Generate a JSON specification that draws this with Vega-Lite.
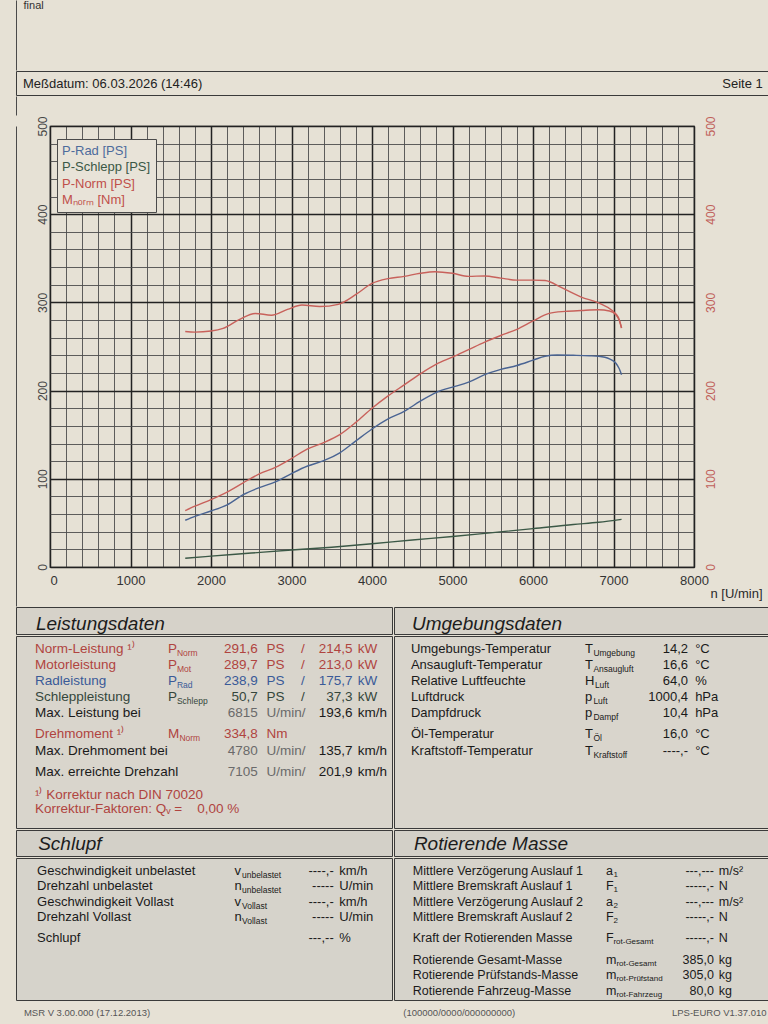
{
  "$schema": "https://vega.github.io/schema/vega-lite/v6.json",
  "background": "#e6e1d5",
  "padding": {"left": 15, "top": 0, "right": 0, "bottom": 0},
  "spacing": 0,
  "columns": 1,
  "align": "none",
  "config": {
    "font": "Liberation Sans",
    "view": {"stroke": null},
    "concat": {"spacing": 0},
    "text": {"font": "Liberation Sans"}
  },
  "datasets": {
    "head": [
      {"slot": "left", "text": "Meßdatum: 06.03.2026 (14:46)"},
      {"slot": "right", "text": "Seite 1"}
    ],
    "foot": [
      {"slot": "left", "text": "MSR V 3.00.000 (17.12.2013)"},
      {"slot": "mid", "text": "(100000/0000/000000000)"},
      {"slot": "right", "text": "LPS-EURO V1.37.010"}
    ],
    "power": [
      {"n": 1680, "ps": 53, "series": "P-Rad [PS]"},
      {"n": 1800, "ps": 57.5, "series": "P-Rad [PS]"},
      {"n": 2000, "ps": 63.5, "series": "P-Rad [PS]"},
      {"n": 2200, "ps": 70.5, "series": "P-Rad [PS]"},
      {"n": 2400, "ps": 82, "series": "P-Rad [PS]"},
      {"n": 2600, "ps": 90, "series": "P-Rad [PS]"},
      {"n": 2800, "ps": 96.5, "series": "P-Rad [PS]"},
      {"n": 3000, "ps": 106, "series": "P-Rad [PS]"},
      {"n": 3200, "ps": 114.5, "series": "P-Rad [PS]"},
      {"n": 3400, "ps": 120.5, "series": "P-Rad [PS]"},
      {"n": 3600, "ps": 129.5, "series": "P-Rad [PS]"},
      {"n": 3800, "ps": 143, "series": "P-Rad [PS]"},
      {"n": 4000, "ps": 156.5, "series": "P-Rad [PS]"},
      {"n": 4200, "ps": 168, "series": "P-Rad [PS]"},
      {"n": 4400, "ps": 176.5, "series": "P-Rad [PS]"},
      {"n": 4600, "ps": 188, "series": "P-Rad [PS]"},
      {"n": 4800, "ps": 198, "series": "P-Rad [PS]"},
      {"n": 5000, "ps": 204, "series": "P-Rad [PS]"},
      {"n": 5200, "ps": 209.5, "series": "P-Rad [PS]"},
      {"n": 5400, "ps": 218, "series": "P-Rad [PS]"},
      {"n": 5600, "ps": 224, "series": "P-Rad [PS]"},
      {"n": 5800, "ps": 228.5, "series": "P-Rad [PS]"},
      {"n": 6000, "ps": 234.5, "series": "P-Rad [PS]"},
      {"n": 6150, "ps": 239, "series": "P-Rad [PS]"},
      {"n": 6300, "ps": 240.3, "series": "P-Rad [PS]"},
      {"n": 6500, "ps": 240, "series": "P-Rad [PS]"},
      {"n": 6700, "ps": 239.5, "series": "P-Rad [PS]"},
      {"n": 6815, "ps": 238.9, "series": "P-Rad [PS]"},
      {"n": 6950, "ps": 236, "series": "P-Rad [PS]"},
      {"n": 7030, "ps": 231, "series": "P-Rad [PS]"},
      {"n": 7070, "ps": 225, "series": "P-Rad [PS]"},
      {"n": 7100, "ps": 218, "series": "P-Rad [PS]"},
      {"n": 1680, "ps": 10, "series": "P-Schlepp [PS]"},
      {"n": 2000, "ps": 12.3, "series": "P-Schlepp [PS]"},
      {"n": 2500, "ps": 15.8, "series": "P-Schlepp [PS]"},
      {"n": 3000, "ps": 19.3, "series": "P-Schlepp [PS]"},
      {"n": 3500, "ps": 22.4, "series": "P-Schlepp [PS]"},
      {"n": 4000, "ps": 26.3, "series": "P-Schlepp [PS]"},
      {"n": 4500, "ps": 30.6, "series": "P-Schlepp [PS]"},
      {"n": 5000, "ps": 34.5, "series": "P-Schlepp [PS]"},
      {"n": 5500, "ps": 39, "series": "P-Schlepp [PS]"},
      {"n": 6000, "ps": 43.5, "series": "P-Schlepp [PS]"},
      {"n": 6500, "ps": 48.2, "series": "P-Schlepp [PS]"},
      {"n": 6815, "ps": 50.7, "series": "P-Schlepp [PS]"},
      {"n": 7100, "ps": 54, "series": "P-Schlepp [PS]"},
      {"n": 1680, "ps": 64, "series": "P-Norm [PS]"},
      {"n": 1800, "ps": 69, "series": "P-Norm [PS]"},
      {"n": 2000, "ps": 76.5, "series": "P-Norm [PS]"},
      {"n": 2200, "ps": 85, "series": "P-Norm [PS]"},
      {"n": 2400, "ps": 95.5, "series": "P-Norm [PS]"},
      {"n": 2600, "ps": 105.5, "series": "P-Norm [PS]"},
      {"n": 2800, "ps": 113, "series": "P-Norm [PS]"},
      {"n": 3000, "ps": 123, "series": "P-Norm [PS]"},
      {"n": 3200, "ps": 134, "series": "P-Norm [PS]"},
      {"n": 3400, "ps": 141, "series": "P-Norm [PS]"},
      {"n": 3600, "ps": 150, "series": "P-Norm [PS]"},
      {"n": 3800, "ps": 164, "series": "P-Norm [PS]"},
      {"n": 4000, "ps": 180, "series": "P-Norm [PS]"},
      {"n": 4200, "ps": 194, "series": "P-Norm [PS]"},
      {"n": 4400, "ps": 206.5, "series": "P-Norm [PS]"},
      {"n": 4600, "ps": 219, "series": "P-Norm [PS]"},
      {"n": 4800, "ps": 230, "series": "P-Norm [PS]"},
      {"n": 5000, "ps": 238, "series": "P-Norm [PS]"},
      {"n": 5200, "ps": 246.5, "series": "P-Norm [PS]"},
      {"n": 5400, "ps": 255, "series": "P-Norm [PS]"},
      {"n": 5600, "ps": 262.5, "series": "P-Norm [PS]"},
      {"n": 5800, "ps": 269.5, "series": "P-Norm [PS]"},
      {"n": 6000, "ps": 279, "series": "P-Norm [PS]"},
      {"n": 6200, "ps": 287.5, "series": "P-Norm [PS]"},
      {"n": 6400, "ps": 289.8, "series": "P-Norm [PS]"},
      {"n": 6600, "ps": 290.8, "series": "P-Norm [PS]"},
      {"n": 6815, "ps": 291.6, "series": "P-Norm [PS]"},
      {"n": 6950, "ps": 290.3, "series": "P-Norm [PS]"},
      {"n": 7030, "ps": 286, "series": "P-Norm [PS]"},
      {"n": 7075, "ps": 279, "series": "P-Norm [PS]"},
      {"n": 7100, "ps": 271, "series": "P-Norm [PS]"}
    ],
    "torque": [
      {"n": 1680, "nm": 267, "series": "M\u2099\u2092\u1d63\u2098 [Nm]"},
      {"n": 1800, "nm": 266.3, "series": "M\u2099\u2092\u1d63\u2098 [Nm]"},
      {"n": 2000, "nm": 267.5, "series": "M\u2099\u2092\u1d63\u2098 [Nm]"},
      {"n": 2150, "nm": 270.5, "series": "M\u2099\u2092\u1d63\u2098 [Nm]"},
      {"n": 2350, "nm": 280.5, "series": "M\u2099\u2092\u1d63\u2098 [Nm]"},
      {"n": 2550, "nm": 287.5, "series": "M\u2099\u2092\u1d63\u2098 [Nm]"},
      {"n": 2750, "nm": 285.5, "series": "M\u2099\u2092\u1d63\u2098 [Nm]"},
      {"n": 2950, "nm": 292, "series": "M\u2099\u2092\u1d63\u2098 [Nm]"},
      {"n": 3130, "nm": 297, "series": "M\u2099\u2092\u1d63\u2098 [Nm]"},
      {"n": 3350, "nm": 295.3, "series": "M\u2099\u2092\u1d63\u2098 [Nm]"},
      {"n": 3580, "nm": 297.8, "series": "M\u2099\u2092\u1d63\u2098 [Nm]"},
      {"n": 3800, "nm": 309, "series": "M\u2099\u2092\u1d63\u2098 [Nm]"},
      {"n": 4000, "nm": 321.5, "series": "M\u2099\u2092\u1d63\u2098 [Nm]"},
      {"n": 4200, "nm": 327, "series": "M\u2099\u2092\u1d63\u2098 [Nm]"},
      {"n": 4400, "nm": 329.5, "series": "M\u2099\u2092\u1d63\u2098 [Nm]"},
      {"n": 4600, "nm": 333, "series": "M\u2099\u2092\u1d63\u2098 [Nm]"},
      {"n": 4780, "nm": 334.8, "series": "M\u2099\u2092\u1d63\u2098 [Nm]"},
      {"n": 5000, "nm": 333, "series": "M\u2099\u2092\u1d63\u2098 [Nm]"},
      {"n": 5200, "nm": 329.5, "series": "M\u2099\u2092\u1d63\u2098 [Nm]"},
      {"n": 5400, "nm": 330, "series": "M\u2099\u2092\u1d63\u2098 [Nm]"},
      {"n": 5600, "nm": 327.5, "series": "M\u2099\u2092\u1d63\u2098 [Nm]"},
      {"n": 5800, "nm": 325.3, "series": "M\u2099\u2092\u1d63\u2098 [Nm]"},
      {"n": 6000, "nm": 325.3, "series": "M\u2099\u2092\u1d63\u2098 [Nm]"},
      {"n": 6150, "nm": 324.8, "series": "M\u2099\u2092\u1d63\u2098 [Nm]"},
      {"n": 6350, "nm": 317, "series": "M\u2099\u2092\u1d63\u2098 [Nm]"},
      {"n": 6600, "nm": 306, "series": "M\u2099\u2092\u1d63\u2098 [Nm]"},
      {"n": 6815, "nm": 299.5, "series": "M\u2099\u2092\u1d63\u2098 [Nm]"},
      {"n": 6980, "nm": 291, "series": "M\u2099\u2092\u1d63\u2098 [Nm]"},
      {"n": 7060, "nm": 283, "series": "M\u2099\u2092\u1d63\u2098 [Nm]"},
      {"n": 7100, "nm": 271, "series": "M\u2099\u2092\u1d63\u2098 [Nm]"}
    ],
    "leist": [
      {"line": 1, "label": "Norm-Leistung \u00b9\u207e", "kind": "norm", "sym": "P", "sub": "Norm", "v1": "291,6", "u1": "PS", "sep": "/", "v2": "214,5", "u2": "kW"},
      {"line": 2, "label": "Motorleistung", "kind": "norm", "sym": "P", "sub": "Mot", "v1": "289,7", "u1": "PS", "sep": "/", "v2": "213,0", "u2": "kW"},
      {"line": 3, "label": "Radleistung", "kind": "rad", "sym": "P", "sub": "Rad", "v1": "238,9", "u1": "PS", "sep": "/", "v2": "175,7", "u2": "kW"},
      {"line": 4, "label": "Schleppleistung", "kind": "schlepp", "sym": "P", "sub": "Schlepp", "v1": "50,7", "u1": "PS", "sep": "/", "v2": "37,3", "u2": "kW"},
      {"line": 5, "label": "Max. Leistung bei", "kind": "speed", "sym": "", "sub": "", "v1": "6815", "u1": "U/min/", "sep": "", "v2": "193,6", "u2": "km/h"},
      {"line": 6.3, "label": "Drehmoment \u00b9\u207e", "kind": "norm", "sym": "M", "sub": "Norm", "v1": "334,8", "u1": "Nm", "sep": "", "v2": "", "u2": ""},
      {"line": 7.4, "label": "Max. Drehmoment bei", "kind": "speed", "sym": "", "sub": "", "v1": "4780", "u1": "U/min/", "sep": "", "v2": "135,7", "u2": "km/h"},
      {"line": 8.7, "label": "Max. erreichte Drehzahl", "kind": "speed", "sym": "", "sub": "", "v1": "7105", "u1": "U/min/", "sep": "", "v2": "201,9", "u2": "km/h"},
      {"line": 10.1, "label": "\u00b9\u207e Korrektur nach DIN 70020", "kind": "norm", "sym": "", "sub": "", "v1": "", "u1": "", "sep": "", "v2": "", "u2": ""},
      {"line": 11, "label": "\u00a0\u00a0\u00a0Korrektur-Faktoren: Q\u1d65 =\u00a0\u00a0\u00a0 0,00 %", "kind": "norm", "sym": "", "sub": "", "v1": "", "u1": "", "sep": "", "v2": "", "u2": ""}
    ],
    "umg": [
      {"line": 1, "label": "Umgebungs-Temperatur", "sym": "T", "sub": "Umgebung", "v1": "14,2", "u1": "°C"},
      {"line": 2, "label": "Ansaugluft-Temperatur", "sym": "T", "sub": "Ansaugluft", "v1": "16,6", "u1": "°C"},
      {"line": 3, "label": "Relative Luftfeuchte", "sym": "H", "sub": "Luft", "v1": "64,0", "u1": "%"},
      {"line": 4, "label": "Luftdruck", "sym": "p", "sub": "Luft", "v1": "1000,4", "u1": "hPa"},
      {"line": 5, "label": "Dampfdruck", "sym": "p", "sub": "Dampf", "v1": "10,4", "u1": "hPa"},
      {"line": 6.3, "label": "Öl-Temperatur", "sym": "T", "sub": "Öl", "v1": "16,0", "u1": "°C"},
      {"line": 7.4, "label": "Kraftstoff-Temperatur", "sym": "T", "sub": "Kraftstoff", "v1": "----,-", "u1": "°C"}
    ],
    "schlupf": [
      {"line": 1, "label": "Geschwindigkeit unbelastet", "sym": "v", "sub": "unbelastet", "v1": "----,-", "u1": "km/h"},
      {"line": 2, "label": "Drehzahl unbelastet", "sym": "n", "sub": "unbelastet", "v1": "-----", "u1": "U/min"},
      {"line": 3, "label": "Geschwindigkeit Vollast", "sym": "v", "sub": "Vollast", "v1": "----,-", "u1": "km/h"},
      {"line": 4, "label": "Drehzahl Vollast", "sym": "n", "sub": "Vollast", "v1": "-----", "u1": "U/min"},
      {"line": 5.35, "label": "Schlupf", "sym": "", "sub": "", "v1": "---,--", "u1": "%"}
    ],
    "rot": [
      {"line": 1, "label": "Mittlere Verzögerung Auslauf 1", "sym": "a", "sub": "1", "v1": "---,---", "u1": "m/s²"},
      {"line": 2, "label": "Mittlere Bremskraft Auslauf 1", "sym": "F", "sub": "1", "v1": "-----,-", "u1": "N"},
      {"line": 3, "label": "Mittlere Verzögerung Auslauf 2", "sym": "a", "sub": "2", "v1": "---,---", "u1": "m/s²"},
      {"line": 4, "label": "Mittlere Bremskraft Auslauf 2", "sym": "F", "sub": "2", "v1": "-----,-", "u1": "N"},
      {"line": 5.35, "label": "Kraft der Rotierenden Masse", "sym": "F", "sub": "rot-Gesamt", "v1": "-----,-", "u1": "N"},
      {"line": 6.77, "label": "Rotierende Gesamt-Masse", "sym": "m", "sub": "rot-Gesamt", "v1": "385,0", "u1": "kg"},
      {"line": 7.74, "label": "Rotierende Prüfstands-Masse", "sym": "m", "sub": "rot-Prüfstand", "v1": "305,0", "u1": "kg"},
      {"line": 8.77, "label": "Rotierende Fahrzeug-Masse", "sym": "m", "sub": "rot-Fahrzeug", "v1": "80,0", "u1": "kg"}
    ]
  },
  "concat": [
    {
      "width": 752, "height": 70,
      "data": {"values": [{"t": "final"}]},
      "mark": {"type": "text", "align": "left", "baseline": "top", "fontSize": 11, "color": "#333333"},
      "encoding": {
        "x": {"datum": 1, "type": "quantitative", "scale": {"domain": [0, 100]}, "axis": null},
        "y": {"datum": 1, "type": "quantitative", "scale": {"domain": [0, 1]}, "axis": {"title": null, "domain": true, "domainColor": "#4a4a4a", "labels": false, "ticks": false, "grid": false, "minExtent": 0, "maxExtent": 0}},
        "text": {"field": "t"}
      }
    },
    {
      "width": 752, "height": 24,
      "view": {"stroke": "#3a3a3a", "strokeWidth": 1},
      "data": {"name": "head"},
      "layer": [
        {
          "transform": [{"filter": "datum.slot === 'left'"}],
          "mark": {"type": "text", "align": "left", "fontSize": 13, "color": "#222222", "dy": 1},
          "encoding": {
            "x": {"datum": 0.93, "type": "quantitative", "scale": {"domain": [0, 100]}, "axis": null},
            "text": {"field": "text"}
          }
        },
        {
          "transform": [{"filter": "datum.slot === 'right'"}],
          "mark": {"type": "text", "align": "right", "fontSize": 13, "color": "#222222", "dy": 1},
          "encoding": {
            "x": {"datum": 99.3, "type": "quantitative", "scale": {"domain": [0, 100]}, "axis": null},
            "text": {"field": "text"}
          }
        }
      ]
    },
    {
      "width": 752, "height": 19,
      "data": {"values": [{"t": ""}]},
      "mark": {"type": "text", "fontSize": 1},
      "encoding": {
        "y": {"datum": 0.5, "type": "quantitative", "scale": {"domain": [0, 1]}, "axis": {"title": null, "domain": true, "domainColor": "#4a4a4a", "labels": false, "ticks": false, "grid": false, "minExtent": 0, "maxExtent": 0}},
        "text": {"field": "t"}
      }
    },
    {
      "spacing": 0,
      "hconcat": [
        {
          "width": 1, "height": 480,
          "data": {"values": [{"t": ""}]},
          "mark": {"type": "text", "fontSize": 1},
          "encoding": {
            "y": {"datum": 0.5, "type": "quantitative", "scale": {"domain": [0, 1]}, "axis": {"title": null, "domain": true, "domainColor": "#4a4a4a", "labels": false, "ticks": false, "grid": false, "minExtent": 0, "maxExtent": 0}},
            "text": {"field": "t"}
          }
        },
        {
          "width": 644, "height": 441,
          "view": {"stroke": "#2a2a2a", "strokeWidth": 1.2},
          "layer": [
            {
              "data": {"name": "power"},
              "mark": {"type": "line", "interpolate": "monotone", "strokeWidth": 1.4},
              "encoding": {
                "x": {
                  "field": "n", "type": "quantitative",
                  "scale": {"domain": [0, 8000], "nice": false},
                  "axis": {
                    "title": "n [U/min]", "titleX": 660, "titleY": 26, "titleAlign": "left", "titleBaseline": "middle",
                    "titleFontSize": 13, "titleFontWeight": "normal", "titleColor": "#2a2a2a",
                    "tickCount": 40,
                    "labelExpr": "datum.value % 1000 === 0 ? '' + datum.value : ''",
                    "labelFontSize": 13, "labelColor": "#333333", "labelPadding": 7, "labelOverlap": false, "labelFlush": false,
                    "labelAlign": {"condition": {"test": "datum.value === 0", "value": "left"}, "value": "center"},
                    "ticks": false, "tickSize": 0, "domain": false,
                    "grid": true, "gridOpacity": 1,
                    "gridColor": {"condition": {"test": "datum.value % 1000 === 0", "value": "#222222"}, "value": "#4d4d4d"},
                    "gridWidth": {"condition": {"test": "datum.value % 1000 === 0", "value": 1.5}, "value": 0.9},
                    "minExtent": 37
                  }
                },
                "y": {
                  "field": "ps", "type": "quantitative",
                  "scale": {"domain": [0, 500], "nice": false},
                  "axis": {
                    "title": null, "orient": "left", "tickCount": 25,
                    "labelExpr": "datum.value % 100 === 0 ? '' + datum.value : ''",
                    "labelAngle": -90, "labelAlign": "center", "labelBaseline": "bottom",
                    "labelFontSize": 12, "labelColor": "#454545", "labelPadding": 1, "labelOverlap": false, "labelFlush": false,
                    "ticks": false, "tickSize": 0, "domain": false,
                    "grid": true, "gridOpacity": 1,
                    "gridColor": {"condition": {"test": "datum.value % 100 === 0", "value": "#222222"}, "value": "#4d4d4d"},
                    "gridWidth": {"condition": {"test": "datum.value % 100 === 0", "value": 1.5}, "value": 0.9},
                    "minExtent": 32
                  }
                },
                "color": {
                  "field": "series", "type": "nominal",
                  "scale": {
                    "domain": ["P-Rad [PS]", "P-Schlepp [PS]", "P-Norm [PS]", "M\u2099\u2092\u1d63\u2098 [Nm]"],
                    "range": ["#4a6493", "#3b5846", "#c8615b", "#c8615b"]
                  },
                  "legend": {
                    "title": null, "orient": "none", "legendX": 41, "legendY": 139, "padding": 5,
                    "strokeColor": "#4a4a4a", "fillColor": "#e8e3d8",
                    "labelFontSize": 13, "labelLimit": 0, "symbolSize": 0, "symbolOpacity": 0, "symbolStrokeWidth": 0,
                    "labelOffset": -13, "rowPadding": 2.5,
                    "encode": {
                      "labels": {
                        "update": {
                          "fill": {"signal": "indexof(datum.value, 'Rad') >= 0 ? '#4d6b9c' : indexof(datum.value, 'Schlepp') >= 0 ? '#3b5846' : '#c04f4a'"}
                        }
                      }
                    }
                  }
                }
              }
            },
            {
              "data": {"name": "torque"},
              "mark": {"type": "line", "interpolate": "monotone", "strokeWidth": 1.4},
              "encoding": {
                "x": {"field": "n", "type": "quantitative"},
                "y": {
                  "field": "nm", "type": "quantitative",
                  "scale": {"domain": [0, 500], "nice": false},
                  "axis": {
                    "title": null, "orient": "right", "tickCount": 25,
                    "labelExpr": "datum.value % 100 === 0 ? '' + datum.value : ''",
                    "labelAngle": -90, "labelAlign": "center", "labelBaseline": "top",
                    "labelFontSize": 12, "labelColor": "#c0605a", "labelPadding": 11, "labelOverlap": false, "labelFlush": false,
                    "ticks": false, "tickSize": 0, "domain": false, "grid": false
                  }
                },
                "color": {"field": "series", "type": "nominal"}
              }
            }
          ],
          "resolve": {"scale": {"y": "independent"}}
        }
      ]
    },
    {
      "spacing": 0,
      "hconcat": [
        {
          "width": 376, "height": 27,
          "view": {"stroke": "#3a3a3a", "fill": "#d6d2c9"},
          "data": {"values": [{"t": "Leistungsdaten"}]},
          "mark": {"type": "text", "align": "left", "fontSize": 19, "fontStyle": "italic", "color": "#1c1c1c", "dy": 3},
          "encoding": {
            "x": {"datum": 5.3, "type": "quantitative", "scale": {"domain": [0, 100]}, "axis": null},
            "text": {"field": "t"}
          }
        },
        {
          "width": 375, "height": 27,
          "view": {"stroke": "#3a3a3a", "fill": "#d6d2c9"},
          "data": {"values": [{"t": "Umgebungsdaten"}]},
          "mark": {"type": "text", "align": "left", "fontSize": 19, "fontStyle": "italic", "color": "#1c1c1c", "dy": 3},
          "encoding": {
            "x": {"datum": 4.8, "type": "quantitative", "scale": {"domain": [0, 100]}, "axis": null},
            "text": {"field": "t"}
          }
        }
      ]
    },
    {
      "spacing": 0,
      "hconcat": [
        {
          "width": 376, "height": 192,
          "view": {"stroke": "#3a3a3a", "fill": "#d9d5cc"},
          "data": {"name": "leist"},
          "encoding": {
            "y": {"field": "line", "type": "quantitative", "scale": {"domain": [0.1875, 12.1875], "reverse": true, "nice": false, "zero": false}, "axis": null}
          },
          "layer": [
            {
              "mark": {"type": "text", "align": "left", "fontSize": 13.5},
              "encoding": {
                "x": {"datum": 5.05, "type": "quantitative", "scale": {"domain": [0, 100]}, "axis": null},
                "text": {"field": "label"},
                "color": {"condition": [{"test": "datum.kind === 'norm'", "value": "#b0443f"}, {"test": "datum.kind === 'rad'", "value": "#3a5a98"}, {"test": "datum.kind === 'schlepp'", "value": "#34463b"}], "value": "#1a1a1a"}
              }
            },
            {
              "mark": {"type": "text", "align": "left", "fontSize": 13.5},
              "encoding": {
                "x": {"datum": 40.4, "type": "quantitative", "scale": {"domain": [0, 100]}, "axis": null},
                "text": {"field": "sym"},
                "color": {"condition": [{"test": "datum.kind === 'norm'", "value": "#b0443f"}, {"test": "datum.kind === 'rad'", "value": "#3a5a98"}, {"test": "datum.kind === 'schlepp'", "value": "#34463b"}], "value": "#1a1a1a"}
              }
            },
            {
              "transform": [{"filter": "indexof(['M','m','H'], datum.sym) < 0"}],
              "mark": {"type": "text", "align": "left", "fontSize": 8.5, "dx": 9, "dy": 4},
              "encoding": {
                "x": {"datum": 40.4, "type": "quantitative", "scale": {"domain": [0, 100]}, "axis": null},
                "text": {"field": "sub"},
                "color": {"condition": [{"test": "datum.kind === 'norm'", "value": "#b0443f"}, {"test": "datum.kind === 'rad'", "value": "#3a5a98"}, {"test": "datum.kind === 'schlepp'", "value": "#34463b"}], "value": "#1a1a1a"}
              }
            },
            {
              "transform": [{"filter": "indexof(['M','m','H'], datum.sym) >= 0"}],
              "mark": {"type": "text", "align": "left", "fontSize": 8.5, "dx": 11.5, "dy": 4},
              "encoding": {
                "x": {"datum": 40.4, "type": "quantitative", "scale": {"domain": [0, 100]}, "axis": null},
                "text": {"field": "sub"},
                "color": {"condition": [{"test": "datum.kind === 'norm'", "value": "#b0443f"}, {"test": "datum.kind === 'rad'", "value": "#3a5a98"}, {"test": "datum.kind === 'schlepp'", "value": "#34463b"}], "value": "#1a1a1a"}
              }
            },
            {
              "mark": {"type": "text", "align": "right", "fontSize": 13.5},
              "encoding": {
                "x": {"datum": 64.3, "type": "quantitative", "scale": {"domain": [0, 100]}, "axis": null},
                "text": {"field": "v1"},
                "color": {"condition": [{"test": "datum.kind === 'norm'", "value": "#b0443f"}, {"test": "datum.kind === 'rad'", "value": "#3a5a98"}, {"test": "datum.kind === 'schlepp'", "value": "#34463b"}, {"test": "datum.kind === 'speed'", "value": "#6a6a6a"}], "value": "#1a1a1a"}
              }
            },
            {
              "mark": {"type": "text", "align": "left", "fontSize": 13.5},
              "encoding": {
                "x": {"datum": 66.6, "type": "quantitative", "scale": {"domain": [0, 100]}, "axis": null},
                "text": {"field": "u1"},
                "color": {"condition": [{"test": "datum.kind === 'norm'", "value": "#b0443f"}, {"test": "datum.kind === 'rad'", "value": "#3a5a98"}, {"test": "datum.kind === 'schlepp'", "value": "#34463b"}, {"test": "datum.kind === 'speed'", "value": "#6a6a6a"}], "value": "#1a1a1a"}
              }
            },
            {
              "mark": {"type": "text", "align": "center", "fontSize": 13.5},
              "encoding": {
                "x": {"datum": 76.3, "type": "quantitative", "scale": {"domain": [0, 100]}, "axis": null},
                "text": {"field": "sep"},
                "color": {"condition": [{"test": "datum.kind === 'norm'", "value": "#b0443f"}, {"test": "datum.kind === 'rad'", "value": "#3a5a98"}, {"test": "datum.kind === 'schlepp'", "value": "#34463b"}], "value": "#1a1a1a"}
              }
            },
            {
              "mark": {"type": "text", "align": "right", "fontSize": 13.5},
              "encoding": {
                "x": {"datum": 89.5, "type": "quantitative", "scale": {"domain": [0, 100]}, "axis": null},
                "text": {"field": "v2"},
                "color": {"condition": [{"test": "datum.kind === 'norm'", "value": "#b0443f"}, {"test": "datum.kind === 'rad'", "value": "#3a5a98"}, {"test": "datum.kind === 'schlepp'", "value": "#34463b"}], "value": "#1a1a1a"}
              }
            },
            {
              "mark": {"type": "text", "align": "left", "fontSize": 13.5},
              "encoding": {
                "x": {"datum": 90.9, "type": "quantitative", "scale": {"domain": [0, 100]}, "axis": null},
                "text": {"field": "u2"},
                "color": {"condition": [{"test": "datum.kind === 'norm'", "value": "#b0443f"}, {"test": "datum.kind === 'rad'", "value": "#3a5a98"}, {"test": "datum.kind === 'schlepp'", "value": "#34463b"}], "value": "#1a1a1a"}
              }
            }
          ]
        },
        {
          "width": 375, "height": 192,
          "view": {"stroke": "#3a3a3a", "fill": "#d9d5cc"},
          "data": {"name": "umg"},
          "encoding": {
            "y": {"field": "line", "type": "quantitative", "scale": {"domain": [0.1875, 12.1875], "reverse": true, "nice": false, "zero": false}, "axis": null}
          },
          "layer": [
            {
              "mark": {"type": "text", "align": "left", "fontSize": 13, "color": "#1a1a1a"},
              "encoding": {
                "x": {"datum": 4.5, "type": "quantitative", "scale": {"domain": [0, 100]}, "axis": null},
                "text": {"field": "label"}
              }
            },
            {
              "mark": {"type": "text", "align": "left", "fontSize": 13, "color": "#1a1a1a"},
              "encoding": {
                "x": {"datum": 50.9, "type": "quantitative", "scale": {"domain": [0, 100]}, "axis": null},
                "text": {"field": "sym"}
              }
            },
            {
              "transform": [{"filter": "indexof(['M','m','H'], datum.sym) < 0"}],
              "mark": {"type": "text", "align": "left", "fontSize": 8.5, "dx": 8.5, "dy": 4, "color": "#1a1a1a"},
              "encoding": {
                "x": {"datum": 50.9, "type": "quantitative", "scale": {"domain": [0, 100]}, "axis": null},
                "text": {"field": "sub"}
              }
            },
            {
              "transform": [{"filter": "indexof(['M','m','H'], datum.sym) >= 0"}],
              "mark": {"type": "text", "align": "left", "fontSize": 8.5, "dx": 10, "dy": 4, "color": "#1a1a1a"},
              "encoding": {
                "x": {"datum": 50.9, "type": "quantitative", "scale": {"domain": [0, 100]}, "axis": null},
                "text": {"field": "sub"}
              }
            },
            {
              "mark": {"type": "text", "align": "right", "fontSize": 13, "color": "#1a1a1a"},
              "encoding": {
                "x": {"datum": 78.4, "type": "quantitative", "scale": {"domain": [0, 100]}, "axis": null},
                "text": {"field": "v1"}
              }
            },
            {
              "mark": {"type": "text", "align": "left", "fontSize": 13, "color": "#1a1a1a"},
              "encoding": {
                "x": {"datum": 80.3, "type": "quantitative", "scale": {"domain": [0, 100]}, "axis": null},
                "text": {"field": "u1"}
              }
            }
          ]
        }
      ]
    },
    {
      "spacing": 0,
      "hconcat": [
        {
          "width": 376, "height": 26,
          "view": {"stroke": "#3a3a3a", "fill": "#d3d0c8"},
          "data": {"values": [{"t": "Schlupf"}]},
          "mark": {"type": "text", "align": "left", "fontSize": 19, "fontStyle": "italic", "color": "#1c1c1c", "dy": 1},
          "encoding": {
            "x": {"datum": 5.9, "type": "quantitative", "scale": {"domain": [0, 100]}, "axis": null},
            "text": {"field": "t"}
          }
        },
        {
          "width": 375, "height": 26,
          "view": {"stroke": "#3a3a3a", "fill": "#d3d0c8"},
          "data": {"values": [{"t": "Rotierende Masse"}]},
          "mark": {"type": "text", "align": "left", "fontSize": 19, "fontStyle": "italic", "color": "#1c1c1c", "dy": 1},
          "encoding": {
            "x": {"datum": 5.3, "type": "quantitative", "scale": {"domain": [0, 100]}, "axis": null},
            "text": {"field": "t"}
          }
        }
      ]
    },
    {
      "spacing": 0,
      "hconcat": [
        {
          "width": 376, "height": 142,
          "view": {"stroke": "#3a3a3a", "fill": "#d6d3cb"},
          "data": {"name": "schlupf"},
          "encoding": {
            "y": {"field": "line", "type": "quantitative", "scale": {"domain": [0.1935, 9.3548], "reverse": true, "nice": false, "zero": false}, "axis": null}
          },
          "layer": [
            {
              "mark": {"type": "text", "align": "left", "fontSize": 13, "color": "#1a1a1a"},
              "encoding": {
                "x": {"datum": 5.6, "type": "quantitative", "scale": {"domain": [0, 100]}, "axis": null},
                "text": {"field": "label"}
              }
            },
            {
              "mark": {"type": "text", "align": "left", "fontSize": 13, "color": "#1a1a1a"},
              "encoding": {
                "x": {"datum": 58.1, "type": "quantitative", "scale": {"domain": [0, 100]}, "axis": null},
                "text": {"field": "sym"}
              }
            },
            {
              "mark": {"type": "text", "align": "left", "fontSize": 8.5, "dx": 7.5, "dy": 4, "color": "#1a1a1a"},
              "encoding": {
                "x": {"datum": 58.1, "type": "quantitative", "scale": {"domain": [0, 100]}, "axis": null},
                "text": {"field": "sub"}
              }
            },
            {
              "mark": {"type": "text", "align": "right", "fontSize": 13, "color": "#1a1a1a"},
              "encoding": {
                "x": {"datum": 84.5, "type": "quantitative", "scale": {"domain": [0, 100]}, "axis": null},
                "text": {"field": "v1"}
              }
            },
            {
              "mark": {"type": "text", "align": "left", "fontSize": 13, "color": "#1a1a1a"},
              "encoding": {
                "x": {"datum": 86, "type": "quantitative", "scale": {"domain": [0, 100]}, "axis": null},
                "text": {"field": "u1"}
              }
            }
          ]
        },
        {
          "width": 375, "height": 142,
          "view": {"stroke": "#3a3a3a", "fill": "#d6d3cb"},
          "data": {"name": "rot"},
          "encoding": {
            "y": {"field": "line", "type": "quantitative", "scale": {"domain": [0.1935, 9.3548], "reverse": true, "nice": false, "zero": false}, "axis": null}
          },
          "layer": [
            {
              "mark": {"type": "text", "align": "left", "fontSize": 12.5, "color": "#1a1a1a"},
              "encoding": {
                "x": {"datum": 5.0, "type": "quantitative", "scale": {"domain": [0, 100]}, "axis": null},
                "text": {"field": "label"}
              }
            },
            {
              "mark": {"type": "text", "align": "left", "fontSize": 12.5, "color": "#1a1a1a"},
              "encoding": {
                "x": {"datum": 56.5, "type": "quantitative", "scale": {"domain": [0, 100]}, "axis": null},
                "text": {"field": "sym"}
              }
            },
            {
              "transform": [{"filter": "indexof(['M','m','H'], datum.sym) < 0"}],
              "mark": {"type": "text", "align": "left", "fontSize": 8, "dx": 7.5, "dy": 4, "color": "#1a1a1a"},
              "encoding": {
                "x": {"datum": 56.5, "type": "quantitative", "scale": {"domain": [0, 100]}, "axis": null},
                "text": {"field": "sub"}
              }
            },
            {
              "transform": [{"filter": "indexof(['M','m','H'], datum.sym) >= 0"}],
              "mark": {"type": "text", "align": "left", "fontSize": 8, "dx": 10.5, "dy": 4, "color": "#1a1a1a"},
              "encoding": {
                "x": {"datum": 56.5, "type": "quantitative", "scale": {"domain": [0, 100]}, "axis": null},
                "text": {"field": "sub"}
              }
            },
            {
              "mark": {"type": "text", "align": "right", "fontSize": 12.5, "color": "#1a1a1a"},
              "encoding": {
                "x": {"datum": 85.3, "type": "quantitative", "scale": {"domain": [0, 100]}, "axis": null},
                "text": {"field": "v1"}
              }
            },
            {
              "mark": {"type": "text", "align": "left", "fontSize": 12.5, "color": "#1a1a1a"},
              "encoding": {
                "x": {"datum": 86.6, "type": "quantitative", "scale": {"domain": [0, 100]}, "axis": null},
                "text": {"field": "u1"}
              }
            }
          ]
        }
      ]
    },
    {
      "width": 752, "height": 24,
      "data": {"name": "foot"},
      "layer": [
        {
          "transform": [{"filter": "datum.slot === 'left'"}],
          "mark": {"type": "text", "align": "left", "fontSize": 9.5, "color": "#555555"},
          "encoding": {
            "x": {"datum": 1.05, "type": "quantitative", "scale": {"domain": [0, 100]}, "axis": null},
            "text": {"field": "text"}
          }
        },
        {
          "transform": [{"filter": "datum.slot === 'mid'"}],
          "mark": {"type": "text", "align": "left", "fontSize": 9.5, "color": "#555555"},
          "encoding": {
            "x": {"datum": 51.5, "type": "quantitative", "scale": {"domain": [0, 100]}, "axis": null},
            "text": {"field": "text"}
          }
        },
        {
          "transform": [{"filter": "datum.slot === 'right'"}],
          "mark": {"type": "text", "align": "right", "fontSize": 9.5, "color": "#555555"},
          "encoding": {
            "x": {"datum": 99.8, "type": "quantitative", "scale": {"domain": [0, 100]}, "axis": null},
            "text": {"field": "text"}
          }
        }
      ]
    }
  ]
}
